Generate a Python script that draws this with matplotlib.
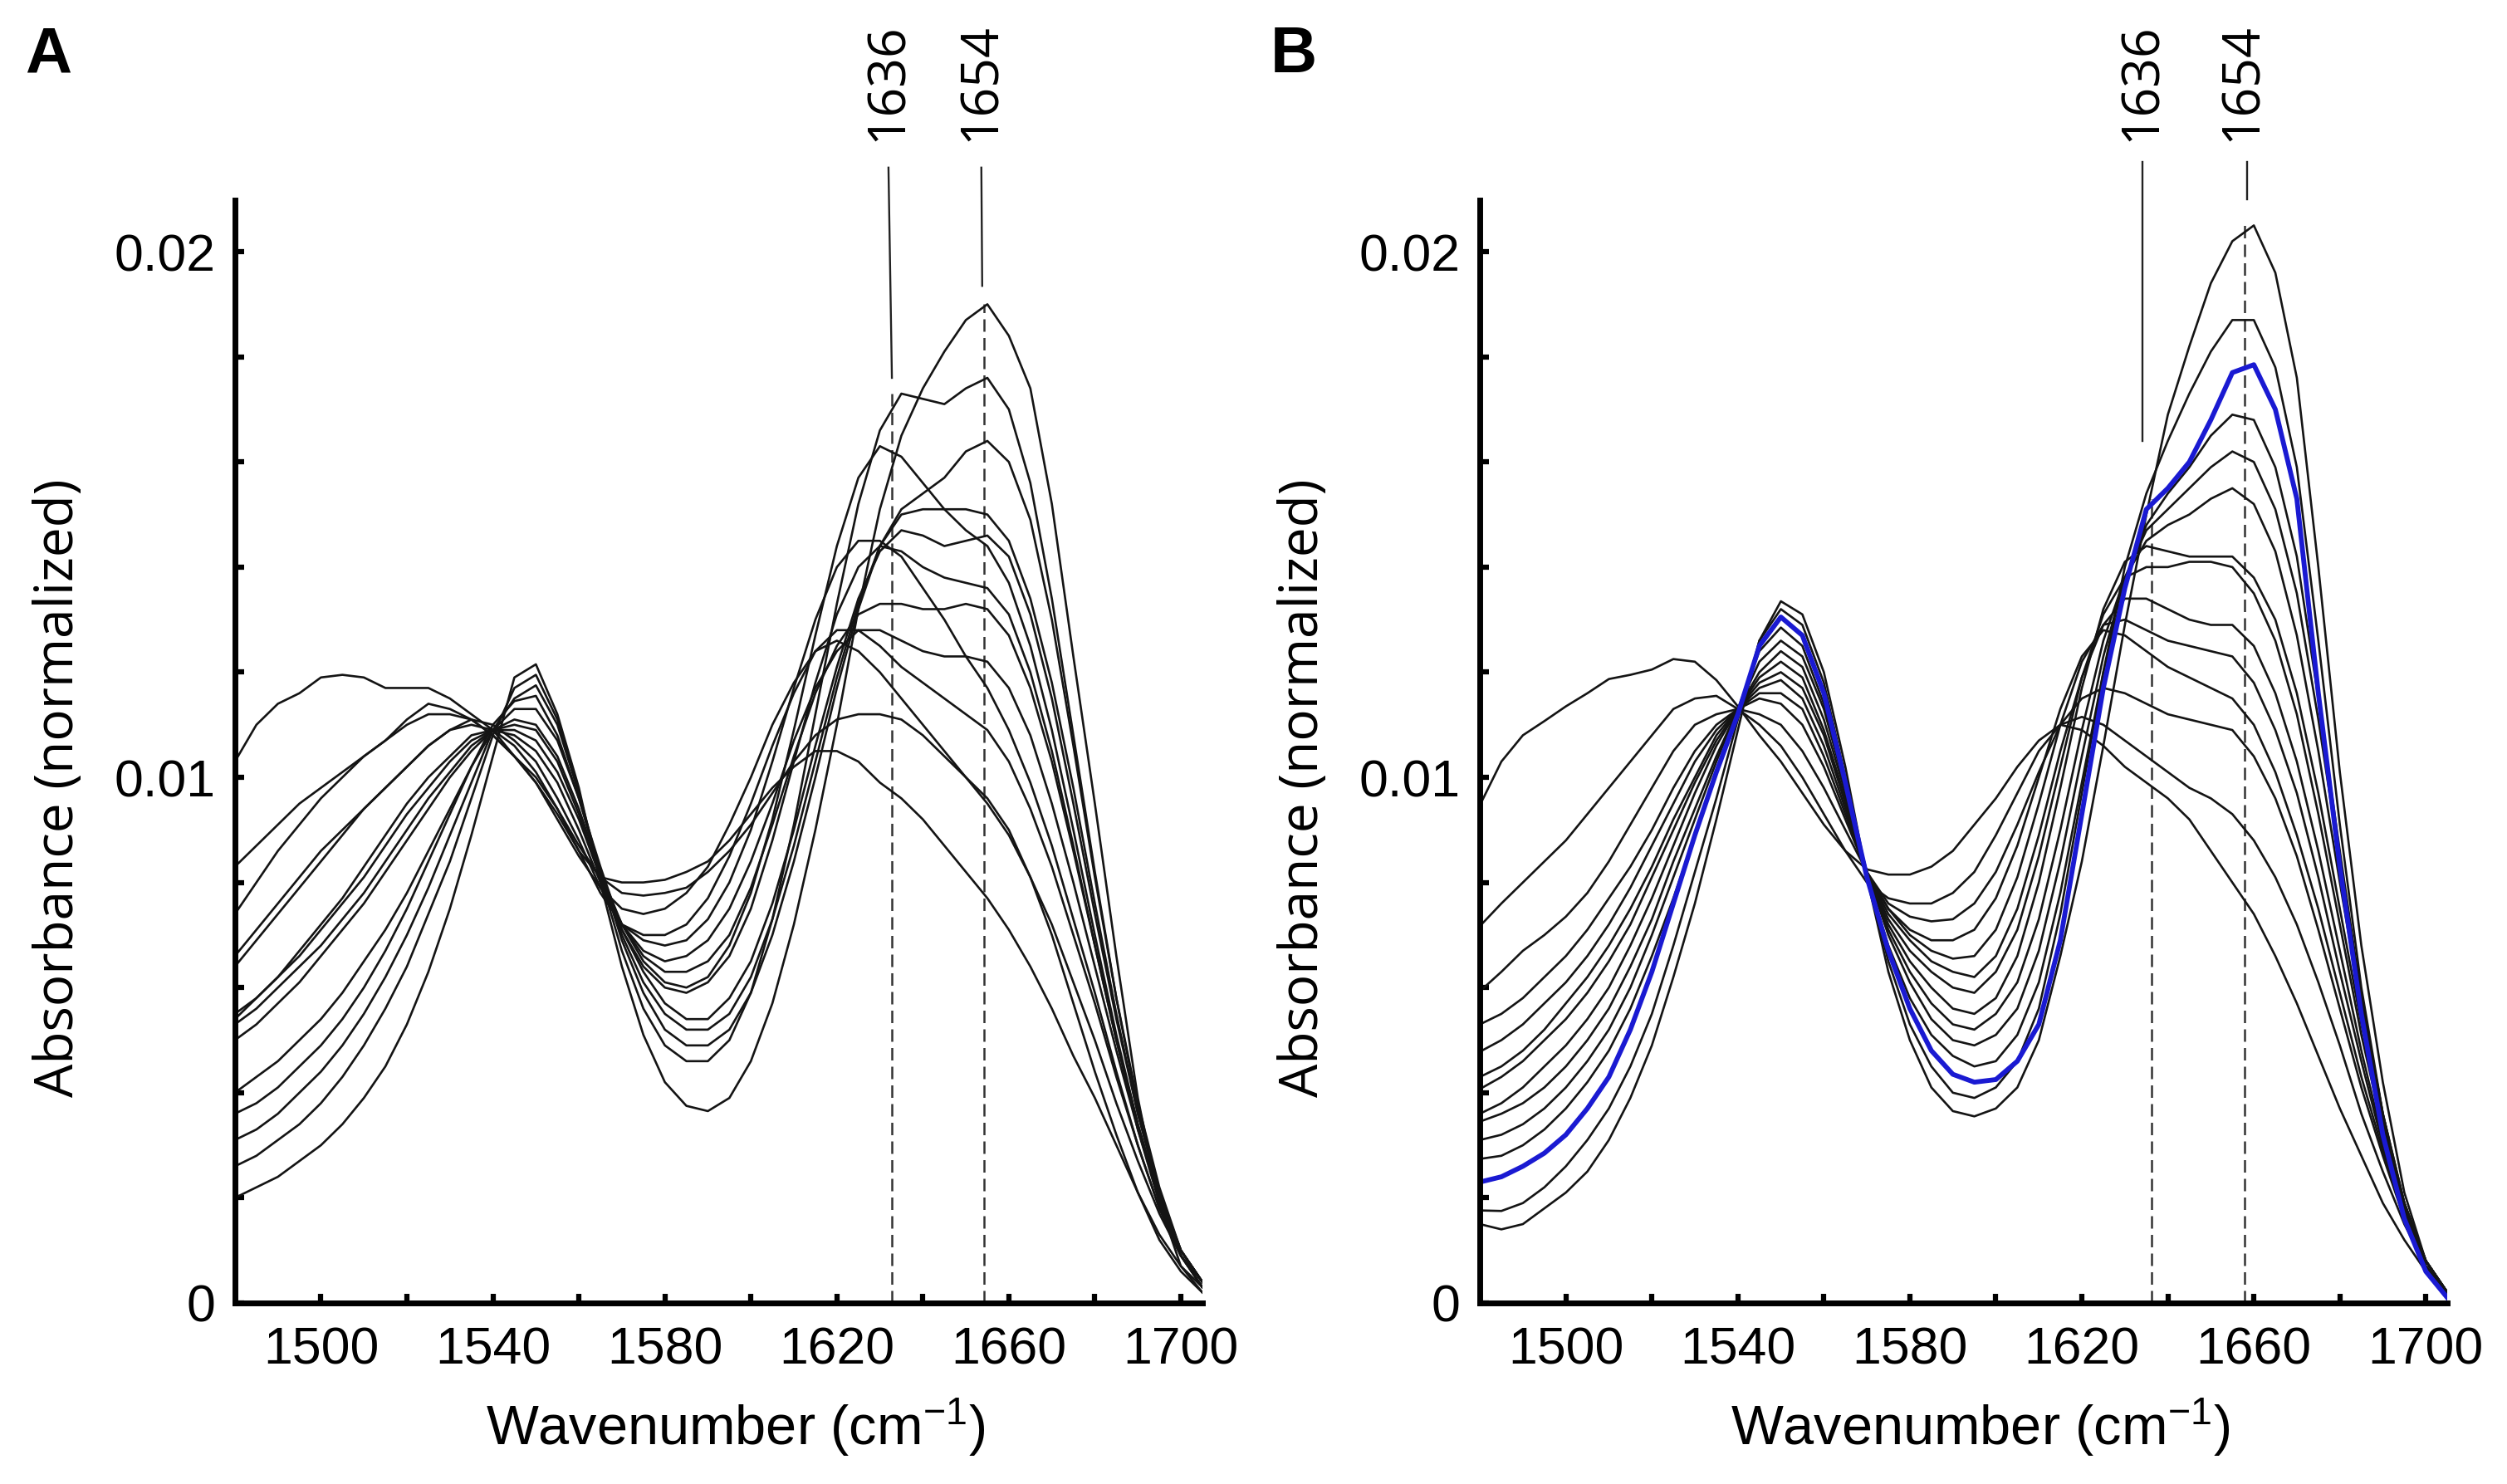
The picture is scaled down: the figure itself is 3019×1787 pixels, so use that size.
import numpy as np
import matplotlib
matplotlib.use('Agg')
import matplotlib.pyplot as plt

# wavenumber grid (cm-1) shared by every spectrum
wavenumber = list(range(1480, 1706, 5))

# absorbance values in units of 1e-3, one list per spectrum
# panel A
a_00 = [2.0, 2.2, 2.4, 2.7, 3.0, 3.4, 3.9, 4.5, 5.3, 6.3,
        7.5, 8.9, 10.4, 11.9, 12.15, 11.2, 9.8, 8.0, 6.4, 5.1,
        4.2, 3.75, 3.65, 3.9, 4.6, 5.7, 7.2, 9.0, 11.0, 13.2,
        15.1, 16.5, 17.4, 18.1, 18.7, 19.0, 18.4, 17.4, 15.2, 12.3,
        9.5, 6.6, 3.9, 1.9, 0.7, 0.2]
a_01 = [2.6, 2.8, 3.1, 3.4, 3.8, 4.3, 4.9, 5.6, 6.4, 7.4,
        8.4, 9.6, 10.8, 11.7, 11.95, 11.1, 9.7, 8.1, 6.7, 5.6,
        4.9, 4.6, 4.6, 5.0, 5.9, 7.3, 9.1, 11.2, 13.3, 15.2,
        16.6, 17.3, 17.2, 17.1, 17.4, 17.6, 17.0, 15.6, 13.4, 10.8,
        8.2, 5.8, 3.7, 2.0, 0.9, 0.3]
a_02 = [3.1, 3.3, 3.6, 4.0, 4.4, 4.9, 5.5, 6.2, 7.0, 7.9,
        8.9, 9.9, 10.9, 11.5, 11.75, 11.0, 9.7, 8.2, 6.9, 5.9,
        5.2, 4.9, 4.9, 5.2, 5.9, 7.0, 8.4, 10.0, 11.7, 13.2,
        14.4, 15.1, 15.4, 15.7, 16.2, 16.4, 16.0, 14.9, 13.0, 10.6,
        8.1, 5.8, 3.8, 2.2, 1.0, 0.4]
a_03 = [3.6, 3.8, 4.1, 4.5, 4.9, 5.4, 6.0, 6.7, 7.5, 8.4,
        9.3, 10.2, 11.0, 11.45, 11.55, 10.8, 9.6, 8.2, 7.0, 6.1,
        5.5, 5.2, 5.2, 5.5, 6.2, 7.3, 8.7, 10.3, 11.9, 13.3,
        14.4, 15.0, 15.1, 15.1, 15.1, 15.0, 14.5, 13.4, 11.8, 9.8,
        7.6, 5.5, 3.6, 2.1, 1.0, 0.4]
a_04 = [4.0, 4.3, 4.6, 5.0, 5.4, 5.9, 6.5, 7.1, 7.8, 8.6,
        9.4, 10.2, 10.9, 11.3, 11.3, 10.7, 9.6, 8.3, 7.1, 6.3,
        5.7, 5.4, 5.4, 5.8, 6.5, 7.6, 9.0, 10.6, 12.1, 13.4,
        14.3, 14.7, 14.6, 14.4, 14.5, 14.6, 14.2, 13.1, 11.5, 9.5,
        7.4, 5.4, 3.6, 2.1, 1.0, 0.4]
a_05 = [5.0, 5.3, 5.7, 6.1, 6.6, 7.1, 7.6, 8.2, 8.8, 9.4,
        10.0, 10.5, 10.9, 11.1, 11.0, 10.4, 9.4, 8.2, 7.2, 6.5,
        6.1, 6.0, 6.2, 6.8, 7.8, 9.2, 10.9, 12.7, 14.4, 15.7,
        16.3, 16.1, 15.6, 15.1, 14.7, 14.4, 13.7, 12.5, 10.9, 9.0,
        7.0, 5.1, 3.4, 2.0, 1.0, 0.4]
a_06 = [5.3, 5.6, 6.0, 6.4, 6.8, 7.3, 7.8, 8.4, 9.0, 9.6,
        10.1, 10.6, 10.9, 11.0, 10.9, 10.3, 9.3, 8.1, 7.1, 6.4,
        6.0, 5.9, 6.1, 6.6, 7.5, 8.8, 10.3, 11.8, 13.1, 14.0,
        14.4, 14.3, 14.0, 13.8, 13.7, 13.6, 13.1, 12.0, 10.5, 8.7,
        6.8, 5.0, 3.3, 1.9, 0.9, 0.3]
a_07 = [5.5, 5.8, 6.2, 6.6, 7.1, 7.6, 8.1, 8.7, 9.3, 9.8,
        10.3, 10.7, 10.9, 10.9, 10.7, 10.1, 9.2, 8.1, 7.2, 6.6,
        6.3, 6.3, 6.5, 7.0, 7.9, 9.1, 10.4, 11.6, 12.5, 13.1,
        13.3, 13.3, 13.2, 13.2, 13.3, 13.2, 12.7, 11.7, 10.3, 8.6,
        6.8, 5.0, 3.4, 2.0, 1.0, 0.4]
a_08 = [5.4, 5.8, 6.2, 6.7, 7.2, 7.7, 8.3, 8.9, 9.5, 10.0,
        10.4, 10.8, 10.9, 10.8, 10.5, 9.9, 9.0, 8.0, 7.2, 6.7,
        6.5, 6.6, 6.9, 7.5, 8.4, 9.5, 10.7, 11.7, 12.4, 12.8,
        12.8, 12.6, 12.4, 12.3, 12.3, 12.2, 11.7, 10.8, 9.5, 8.0,
        6.4, 4.8, 3.3, 2.0, 1.0, 0.4]
a_09 = [6.4, 6.9, 7.4, 7.9, 8.4, 8.9, 9.4, 9.8, 10.2, 10.6,
        10.9, 11.1, 11.0, 10.7, 10.3, 9.6, 8.8, 7.9, 7.2, 6.9,
        6.8, 6.9, 7.3, 8.0, 9.0, 10.3, 11.7, 13.0, 14.0, 14.5,
        14.5, 14.2, 13.6, 13.0, 12.3, 11.7, 10.9, 9.9, 8.7, 7.3,
        5.9, 4.4, 3.0, 1.8, 0.9, 0.3]
a_10 = [6.6, 7.1, 7.6, 8.1, 8.6, 9.0, 9.4, 9.8, 10.2, 10.6,
        10.9, 11.0, 10.9, 10.6, 10.1, 9.4, 8.6, 7.8, 7.2, 7.0,
        7.0, 7.2, 7.7, 8.5, 9.5, 10.6, 11.6, 12.4, 12.8, 12.8,
        12.5, 12.1, 11.8, 11.5, 11.2, 10.9, 10.3, 9.4, 8.3, 7.0,
        5.7, 4.3, 3.0, 1.8, 0.9, 0.3]
a_11 = [7.4, 8.0, 8.6, 9.1, 9.6, 10.0, 10.4, 10.7, 11.0, 11.2,
        11.2, 11.1, 10.8, 10.4, 9.9, 9.2, 8.5, 7.9, 7.5, 7.4,
        7.5, 7.8, 8.3, 9.1, 10.0, 11.0, 11.8, 12.4, 12.6, 12.4,
        12.0, 11.5, 11.0, 10.5, 10.0, 9.5, 8.9, 8.1, 7.2, 6.1,
        5.0, 3.8, 2.7, 1.7, 0.9, 0.4]
a_12 = [8.3, 8.7, 9.1, 9.5, 9.8, 10.1, 10.4, 10.7, 11.1, 11.4,
        11.3, 11.1, 10.8, 10.4, 10.0, 9.4, 8.7, 8.1, 7.8, 7.75,
        7.8, 7.9, 8.2, 8.6, 9.1, 9.7, 10.3, 10.8, 11.1, 11.2,
        11.2, 11.1, 10.8, 10.4, 10.0, 9.6, 9.0, 8.1, 7.0, 5.7,
        4.4, 3.2, 2.1, 1.2, 0.6, 0.2]
a_13 = [10.3, 11.0, 11.4, 11.6, 11.9, 11.95, 11.9, 11.7, 11.7, 11.7,
        11.5, 11.2, 10.9, 10.4, 9.9, 9.3, 8.6, 8.1, 8.0, 8.0,
        8.05, 8.2, 8.4, 8.8, 9.3, 9.8, 10.2, 10.5, 10.5, 10.3,
        9.9, 9.6, 9.2, 8.7, 8.2, 7.7, 7.1, 6.4, 5.6, 4.7,
        3.9, 3.0, 2.1, 1.3, 0.7, 0.3]

# panel B
b_00 = [1.5, 1.4, 1.5, 1.8, 2.1, 2.5, 3.1, 3.9, 4.9, 6.2,
        7.6, 9.2, 10.9, 12.6, 13.35, 13.1, 12.0, 10.2, 8.1, 6.3,
        5.0, 4.1, 3.65, 3.55, 3.7, 4.1, 5.0, 6.6, 8.4, 10.6,
        12.9, 15.0, 16.9, 18.2, 19.4, 20.2, 20.5, 19.6, 17.6, 14.0,
        10.1, 6.8, 4.2, 2.1, 0.8, 0.2]
b_01 = [1.76, 1.75, 1.9, 2.2, 2.6, 3.1, 3.7, 4.5, 5.5, 6.8,
        8.2, 9.6, 11.1, 12.6, 13.2, 12.9, 11.8, 10.0, 8.1, 6.5,
        5.3, 4.5, 4.0, 3.9, 4.1, 4.6, 5.6, 7.4, 9.7, 12.0,
        14.0, 15.4, 16.4, 17.3, 18.1, 18.7, 18.7, 17.8, 15.9, 12.6,
        9.1, 6.0, 3.6, 1.8, 0.7, 0.2]
b_02 = [2.74, 2.8, 3.0, 3.3, 3.7, 4.2, 4.8, 5.6, 6.6, 7.7,
        8.9, 10.1, 11.3, 12.4, 12.85, 12.5, 11.4, 9.8, 8.1, 6.8,
        5.8, 5.1, 4.7, 4.5, 4.6, 5.1, 6.1, 7.8, 9.9, 12.0,
        13.7, 14.8, 15.4, 15.9, 16.5, 16.9, 16.8, 15.9, 14.2, 11.5,
        8.6, 5.8, 3.6, 1.9, 0.8, 0.2]
b_03 = [3.1, 3.2, 3.4, 3.7, 4.1, 4.6, 5.2, 6.0, 7.0, 8.1,
        9.2, 10.3, 11.3, 12.2, 12.6, 12.3, 11.3, 9.8, 8.2, 7.0,
        6.1, 5.4, 5.0, 4.9, 5.1, 5.6, 6.7, 8.4, 10.4, 12.3,
        13.8, 14.7, 15.1, 15.5, 15.9, 16.2, 16.0, 15.1, 13.5, 11.1,
        8.4, 5.8, 3.6, 1.9, 0.8, 0.2]
b_04 = [3.45, 3.6, 3.8, 4.1, 4.5, 5.0, 5.6, 6.4, 7.3, 8.4,
        9.4, 10.4, 11.3, 12.0, 12.4, 12.1, 11.1, 9.7, 8.2, 7.1,
        6.3, 5.7, 5.3, 5.2, 5.5, 6.1, 7.3, 9.0, 10.9, 12.6,
        13.8, 14.5, 14.8, 15.0, 15.3, 15.5, 15.2, 14.3, 12.7, 10.5,
        8.0, 5.6, 3.5, 1.9, 0.8, 0.2]
b_05 = [3.6, 3.8, 4.1, 4.5, 4.9, 5.4, 6.0, 6.8, 7.7, 8.7,
        9.7, 10.6, 11.3, 11.9, 12.2, 11.9, 10.9, 9.6, 8.2, 7.2,
        6.5, 6.0, 5.6, 5.5, 5.8, 6.6, 8.0, 9.8, 11.7, 13.2,
        14.1, 14.4, 14.3, 14.2, 14.2, 14.2, 13.8, 13.0, 11.6, 9.7,
        7.5, 5.3, 3.4, 1.9, 0.8, 0.2]
b_06 = [4.07, 4.3, 4.6, 5.0, 5.4, 5.9, 6.5, 7.2, 8.1, 9.0,
        9.9, 10.7, 11.3, 11.8, 12.0, 11.7, 10.8, 9.5, 8.2, 7.3,
        6.7, 6.3, 6.0, 5.9, 6.3, 7.1, 8.5, 10.2, 11.9, 13.1,
        13.8, 14.0, 14.0, 14.1, 14.1, 14.0, 13.5, 12.6, 11.2, 9.3,
        7.2, 5.1, 3.3, 1.8, 0.8, 0.2]
b_07 = [4.3, 4.5, 4.8, 5.2, 5.7, 6.2, 6.8, 7.5, 8.3, 9.2,
        10.0, 10.8, 11.3, 11.7, 11.85, 11.5, 10.6, 9.4, 8.2, 7.4,
        6.9, 6.5, 6.3, 6.2, 6.6, 7.5, 8.9, 10.5, 11.9, 12.9,
        13.4, 13.4, 13.2, 13.0, 12.9, 12.9, 12.5, 11.6, 10.3, 8.6,
        6.7, 4.8, 3.1, 1.7, 0.8, 0.2]
b_08 = [4.78, 5.0, 5.3, 5.7, 6.1, 6.6, 7.2, 7.9, 8.7, 9.5,
        10.3, 10.9, 11.3, 11.6, 11.6, 11.3, 10.4, 9.3, 8.2, 7.5,
        7.0, 6.7, 6.55, 6.6, 7.1, 8.1, 9.5, 11.0, 12.2, 12.9,
        13.0, 12.8, 12.6, 12.5, 12.4, 12.3, 11.8, 10.9, 9.7, 8.1,
        6.3, 4.6, 3.0, 1.7, 0.8, 0.2]
b_09 = [5.3, 5.5, 5.8, 6.2, 6.6, 7.1, 7.7, 8.3, 9.0, 9.8,
        10.5, 11.0, 11.3, 11.5, 11.4, 11.0, 10.2, 9.2, 8.2, 7.5,
        7.1, 6.9, 6.9, 7.1, 7.7, 8.7, 10.0, 11.3, 12.3, 12.8,
        12.7, 12.4, 12.1, 11.9, 11.7, 11.5, 11.0, 10.1, 8.9, 7.5,
        5.9, 4.3, 2.9, 1.6, 0.7, 0.2]
b_10 = [5.93, 6.3, 6.7, 7.0, 7.35, 7.8, 8.4, 9.1, 9.8, 10.5,
        11.0, 11.2, 11.3, 11.2, 11.0, 10.5, 9.8, 9.0, 8.2, 7.6,
        7.35, 7.26, 7.3, 7.6, 8.2, 9.1, 10.1, 11.0, 11.5, 11.7,
        11.6, 11.4, 11.2, 11.1, 11.0, 10.9, 10.4, 9.6, 8.5, 7.1,
        5.6, 4.1, 2.8, 1.6, 0.7, 0.2]
b_11 = [7.17, 7.6, 8.0, 8.4, 8.8, 9.3, 9.8, 10.3, 10.8, 11.3,
        11.5, 11.55, 11.3, 11.0, 10.6, 10.0, 9.3, 8.6, 8.0, 7.7,
        7.6, 7.6, 7.8, 8.2, 8.9, 9.7, 10.5, 11.0, 11.15, 11.0,
        10.7, 10.4, 10.1, 9.8, 9.6, 9.3, 8.8, 8.1, 7.2, 6.1,
        4.9, 3.6, 2.5, 1.5, 0.7, 0.2]
b_12 = [9.47, 10.3, 10.8, 11.07, 11.35, 11.6, 11.87, 11.95, 12.05, 12.25,
        12.2, 11.85, 11.35, 10.8, 10.3, 9.7, 9.1, 8.6, 8.25, 8.15,
        8.15, 8.3, 8.6, 9.1, 9.6, 10.2, 10.7, 11.0, 10.9, 10.6,
        10.2, 9.9, 9.6, 9.2, 8.6, 8.0, 7.4, 6.6, 5.7, 4.7,
        3.7, 2.8, 1.9, 1.2, 0.6, 0.2]
# highlighted (blue) spectrum in panel B
b_blue = [2.3, 2.4, 2.6, 2.85, 3.2, 3.7, 4.3, 5.2, 6.3, 7.6,
          8.9, 10.1, 11.2, 12.5, 13.05, 12.7, 11.6, 9.9, 8.1, 6.7,
          5.6, 4.8, 4.35, 4.2, 4.25, 4.6, 5.3, 6.9, 9.3, 11.7,
          13.6, 15.1, 15.5, 16.0, 16.8, 17.7, 17.85, 17.0, 15.3, 11.6,
          8.3, 5.5, 3.2, 1.6, 0.6, 0.1]

panel_a = [a_00, a_01, a_02, a_03, a_04, a_05, a_06, a_07, a_08, a_09,
           a_10, a_11, a_12, a_13]
panel_b = [b_00, b_01, b_02, b_03, b_04, b_05, b_06, b_07, b_08, b_09,
           b_10, b_11, b_12]

xtick_vals = list(range(1500, 1701, 20))
xtick_text = ['1500', '', '1540', '', '1580', '', '1620', '', '1660', '', '1700']
ytick_vals = [0, 0.002, 0.004, 0.006, 0.008, 0.01, 0.012, 0.014, 0.016, 0.018, 0.02]
ytick_text = ['0', '', '', '', '', '0.01', '', '', '', '', '0.02']

# band markers: label, label x, solid guide (x0, y0, x1, y1), dashed guide (x0, x1, top)
marks_a = [('1636', 1631.9, (1632.0, 0.0216, 1632.8, 0.0176), (1632.8, 1632.8, 0.0173)),
           ('1654', 1653.6, (1653.6, 0.0216, 1653.8, 0.01935), (1654.2, 1654.2, 0.0190))]
marks_b = [('1636', 1634.1, (1634.1, 0.0217, 1634.1, 0.0164), (1636.3, 1636.3, 0.0153)),
           ('1654', 1657.4, (1658.4, 0.0217, 1658.4, 0.0210), (1657.8, 1657.8, 0.0205))]

plt.rcParams['font.family'] = ['Liberation Sans', 'DejaVu Sans']
plt.rcParams['mathtext.default'] = 'regular'

fig = plt.figure(figsize=(30.19, 17.87), dpi=100)
ax_a = fig.add_axes([0.0937, 0.1220, 0.3859, 0.7431])
ax_b = fig.add_axes([0.5903, 0.1220, 0.3859, 0.7431])

x = np.array(wavenumber)


def draw_panel(ax, curves, marks, letter, blue=None):
    for c in curves:
        ax.plot(x, np.array(c) / 1000.0, color='#141414', lw=1.9, zorder=3,
                solid_joinstyle='round')
    if blue is not None:
        ax.plot(x, np.array(blue) / 1000.0, color='#1a1ad2', lw=4.2, zorder=4,
                solid_joinstyle='round')

    for label, lx, solid, dashed in marks:
        ax.plot([solid[0], solid[2]], [solid[1], solid[3]], color='#222222',
                lw=1.7, clip_on=False, zorder=2)
        ax.plot([dashed[0], dashed[1]], [0, dashed[2]], color='#333333',
                lw=1.8, dashes=(6, 3), zorder=2)
        ax.text(lx, 0.0221, label, rotation=90, ha='center', va='bottom',
                fontsize=45, family=['Open Sans', 'DejaVu Sans'], clip_on=False)

    ax.set_xlim(1480, 1705)
    ax.set_ylim(0, 0.02098)
    for side in ['top', 'right']:
        ax.spines[side].set_visible(False)
    for side in ['left', 'bottom']:
        ax.spines[side].set_linewidth(5)
        ax.spines[side].set_zorder(5)
    ax.set_xticks(xtick_vals)
    ax.set_xticklabels(xtick_text)
    ax.set_yticks(ytick_vals)
    ax.set_yticklabels(ytick_text)
    ax.tick_params(direction='in', length=8, width=4.5, labelsize=45, pad=20)
    ax.tick_params(axis='y', pad=17)

    ax.text(-0.182, 0.467, 'Absorbance (normalized)', rotation=90, ha='center',
            va='center', fontsize=46, family=['Open Sans', 'DejaVu Sans'],
            transform=ax.transAxes)
    ax.text(0.517, -0.113, r'Wavenumber (cm$^{-1}$)', ha='center', va='center',
            fontsize=48, transform=ax.transAxes)
    ax.text(-0.217, 1.116, letter, ha='left', va='baseline', fontsize=56,
            fontweight='bold', transform=ax.transAxes)


draw_panel(ax_a, panel_a, marks_a, 'A')
draw_panel(ax_b, panel_b, marks_b, 'B', blue=b_blue)

fig.savefig('out.png', dpi=100)
